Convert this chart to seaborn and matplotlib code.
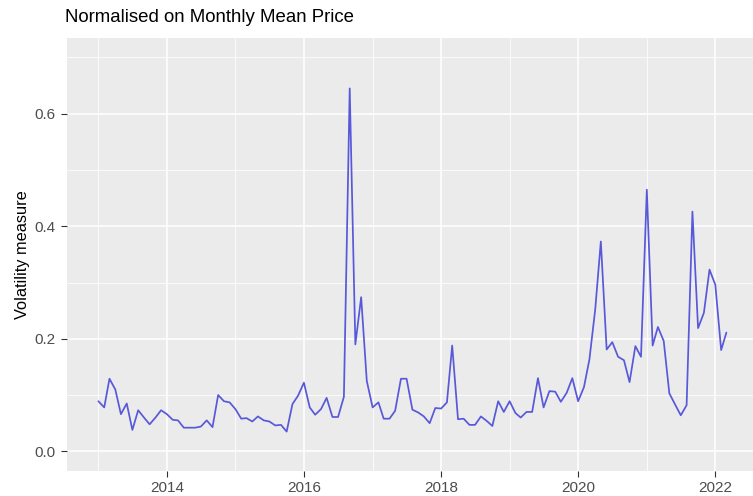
#Import Libraries
import pandas as pd
import numpy as np
import seaborn as sns
import matplotlib.pyplot as plt
import matplotlib.dates as mdates
from matplotlib.ticker import MultipleLocator

#Monthly volatility values, Jan 2013 - Mar 2022
volatility = [
    0.089, 0.078, 0.129, 0.110, 0.066, 0.085, 0.038, 0.073, 0.060, 0.048, 0.060, 0.073,  # 2013
    0.066, 0.056, 0.055, 0.042, 0.042, 0.042, 0.044, 0.055, 0.043, 0.100, 0.089, 0.087,  # 2014
    0.075, 0.058, 0.059, 0.053, 0.062, 0.055, 0.053, 0.046, 0.047, 0.035, 0.084, 0.099,  # 2015
    0.122, 0.078, 0.065, 0.075, 0.095, 0.061, 0.061, 0.097, 0.645, 0.190, 0.274, 0.125,  # 2016
    0.078, 0.087, 0.058, 0.058, 0.072, 0.129, 0.129, 0.074, 0.069, 0.062, 0.050, 0.077,  # 2017
    0.076, 0.087, 0.188, 0.057, 0.058, 0.047, 0.047, 0.062, 0.054, 0.045, 0.089, 0.070,  # 2018
    0.089, 0.068, 0.060, 0.070, 0.070, 0.130, 0.078, 0.107, 0.106, 0.088, 0.104, 0.130,  # 2019
    0.089, 0.114, 0.163, 0.252, 0.373, 0.181, 0.194, 0.168, 0.162, 0.123, 0.187, 0.168,  # 2020
    0.465, 0.188, 0.221, 0.196, 0.103, 0.083, 0.064, 0.082, 0.426, 0.219, 0.246, 0.323,  # 2021
    0.296, 0.180, 0.211,                                                                  # 2022
]
months = pd.date_range("2013-01-01", periods=len(volatility), freq="MS")
df = pd.DataFrame({"date": months, "volatility": volatility})

title = "Normalised on Monthly Mean Price"
y_label = "Volatility measure"
year_ticks = [2014, 2016, 2018, 2020, 2022]
minor_years = [2013, 2015, 2017, 2019, 2021]

#ggplot-like look
sns.set_theme(style="darkgrid")
plt.rcParams['font.family'] = ['Liberation Sans', 'DejaVu Sans']

fig = plt.figure(figsize=(7.53, 4.96), dpi=100)
W, H = 753, 496
left, right, top, bottom = 67, 757.8, 37.8, 471.0
ax = fig.add_axes([left / W, 1 - bottom / H, (right - left) / W, (bottom - top) / H])
ax.set_facecolor("#EBEBEB")

sns.lineplot(data=df, x="date", y="volatility", ax=ax, color="#5858DA", linewidth=1.25)

#axis limits with 5% expansion like ggplot
x0 = mdates.date2num(df["date"].min())
x1 = mdates.date2num(df["date"].max())
pad = (x1 - x0) * 0.05
ax.set_xlim(x0 - pad, x1 + pad)
ax.set_ylim(-0.035, 0.735)

ax.set_xticks([mdates.date2num(pd.Timestamp(f"{y}-01-01")) for y in year_ticks])
ax.set_xticklabels([str(y) for y in year_ticks])
ax.set_xticks([mdates.date2num(pd.Timestamp(f"{y}-01-01")) for y in minor_years], minor=True)
ax.yaxis.set_major_locator(MultipleLocator(0.2))
ax.yaxis.set_minor_locator(MultipleLocator(0.1))
ax.set_yticks([0.0, 0.2, 0.4, 0.6])
ax.set_yticklabels(["0.0", "0.2", "0.4", "0.6"])

ax.grid(which="major", color="white", linewidth=1.1)
ax.grid(which="minor", color="white", linewidth=0.55)
for s in ax.spines.values():
    s.set_visible(False)

ax.tick_params(axis="both", which="major", length=4, width=0.8, color="#333333",
               labelsize=11, labelcolor="#4D4D4D", pad=4, bottom=True, left=True)
ax.tick_params(axis="x", which="major", pad=3.5)
ax.tick_params(axis="both", which="minor", length=0)

ax.set_xlabel("")
ax.set_ylabel(y_label, fontsize=11.8, color="black")
ax.yaxis.set_label_coords(-0.053, 0.5)

fig.text(65 / W, 1 - 18 / H, title, fontsize=13.4, color="black", ha="left", va="center")

fig.savefig("out.png", dpi=100)
